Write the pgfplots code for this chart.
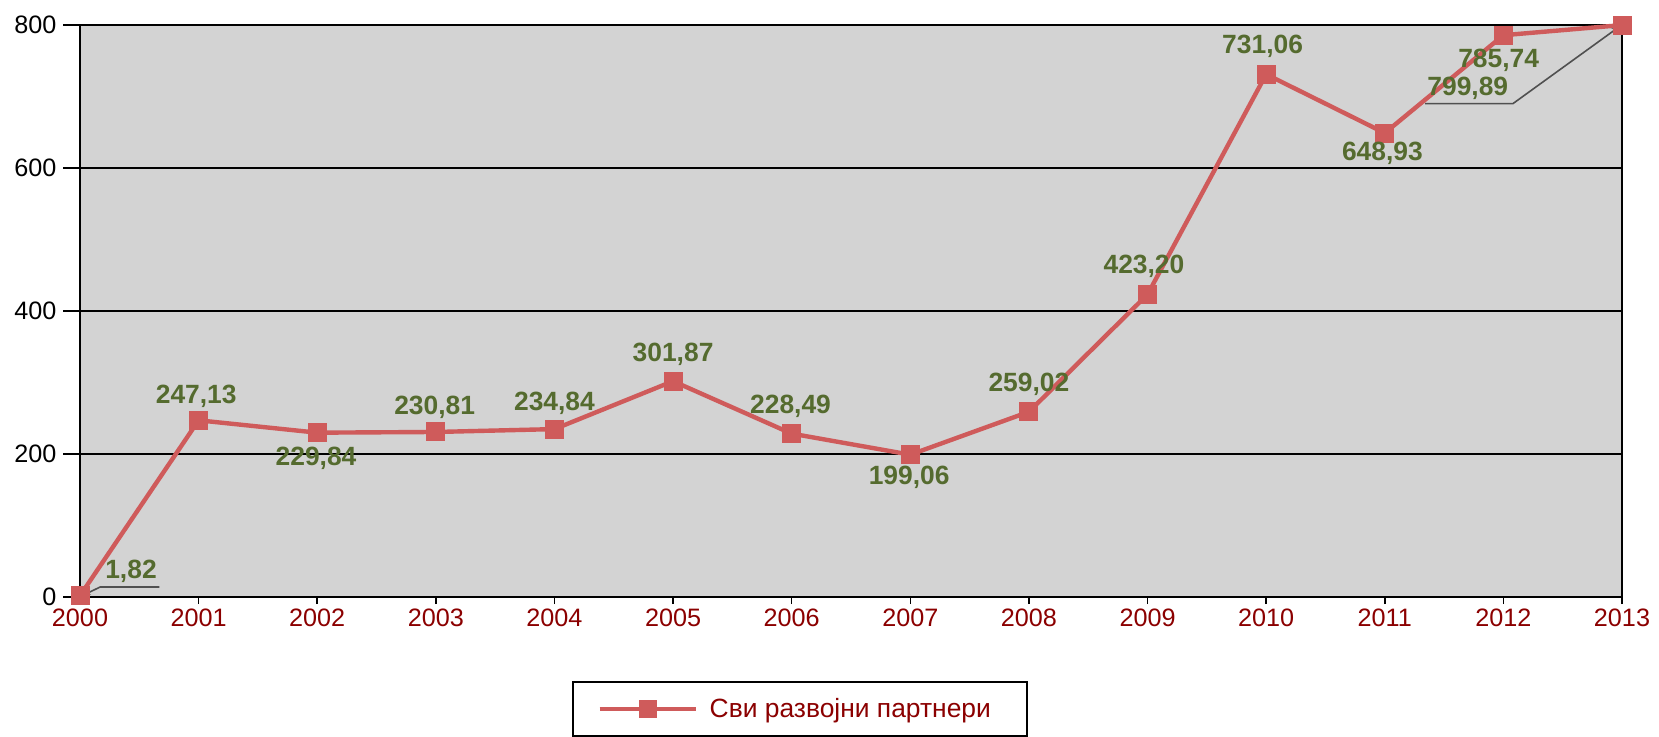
\documentclass[border=0pt]{standalone}
\usepackage{fontspec}
\setmainfont{Liberation Sans}
\usepackage{pgfplots}
\pgfplotsset{compat=1.18}
\usetikzlibrary{arrows.meta}
\definecolor{plotbg}{RGB}{211,211,211}
\definecolor{linered}{RGB}{207,91,91}
\definecolor{labgreen}{RGB}{85,107,47}
\definecolor{tickred}{RGB}{139,0,0}
\definecolor{leader}{RGB}{80,80,80}
\pgfplotstableread{
x y
2000 1.82
2001 247.13
2002 229.84
2003 230.81
2004 234.84
2005 301.87
2006 228.49
2007 199.06
2008 259.02
2009 423.20
2010 731.06
2011 648.93
2012 785.74
2013 799.89
}\maindata
\pgfplotstableread{
x y label
2000.43 36 1,82
2000.98 281 247,13
2001.99 194 229,84
2002.99 265 230,81
2004.00 271 234,84
2005.00 339 301,87
2005.99 267 228,49
2006.99 167 199,06
2008.00 298 259,02
2008.97 462 423,20
2009.97 770 731,06
2010.98 621 648,93
2011.96 751 785,74
2011.70 712 799,89
}\labeldata
\begin{document}
\begin{tikzpicture}
\useasboundingbox (0,0) rectangle (829.5pt,368pt);
\begin{axis}[
  at={(40pt,69.5pt)}, anchor=south west,
  scale only axis, width=771pt, height=286pt,
  xmin=2000, xmax=2013, ymin=0, ymax=800,
  xtick={2000,2001,...,2013}, ytick={0,200,...,800},
  /pgf/number format/assume math mode=true,
  /pgf/number format/1000 sep={},
  tick label style={font=\fontsize{12.6}{14}\selectfont},
  x tick label style={text=tickred, yshift=2pt},
  y tick label style={text=black, xshift=-4pt},
  axis background/.style={fill=plotbg},
  ymajorgrids, major grid style={black, line width=0.8pt},
  axis line style={black, line width=0.9pt},
  tick align=outside, tick pos=left,
  xtick style={black, line width=0.8pt, /pgfplots/major tick length=3.5pt},
  ytick style={black, line width=0.8pt, /pgfplots/major tick length=8.5pt},
  clip=false,
  legend style={at={(0.467,-0.147)}, anchor=north, draw=black, line width=1.1pt,
    font=\fontsize{13.2}{15}\selectfont, text=tickred,
    inner xsep=12pt, inner ysep=6pt, legend cell align=left,
    nodes={inner xsep=6pt}},
  legend image code/.code={
    \draw[linered, line width=2.2pt] (0pt,0pt) -- (48pt,0pt);
    \draw[fill=linered, draw=none] (19.5pt,-4.4pt) rectangle (28.5pt,4.4pt);
  },
]
\addplot[linered, line width=2.2pt, mark=square*, mark size=4.5pt,
  mark options={fill=linered, draw=linered, line width=0pt}] table[x=x,y=y] {\maindata};
\addlegendentry{Сви развојни партнери}
\addplot[forget plot, draw=none, mark=none, nodes near coords, point meta=explicit symbolic,
  every node near coord/.style={anchor=center, inner sep=0pt, text=labgreen,
    font=\fontsize{13.2}{15}\selectfont\bfseries}] table[x=x,y=y,meta=label] {\labeldata};
\draw[leader, line width=0.8pt, -{Stealth[length=4pt,width=3pt]}] (axis cs:2000.67,14) -- (axis cs:2000.17,14) -- (axis cs:2000.02,2);
\draw[leader, line width=0.8pt, -{Stealth[length=4pt,width=3pt]}] (axis cs:2011.34,690) -- (axis cs:2012.08,690) -- (axis cs:2012.98,798);
\end{axis}
\end{tikzpicture}
\end{document}
